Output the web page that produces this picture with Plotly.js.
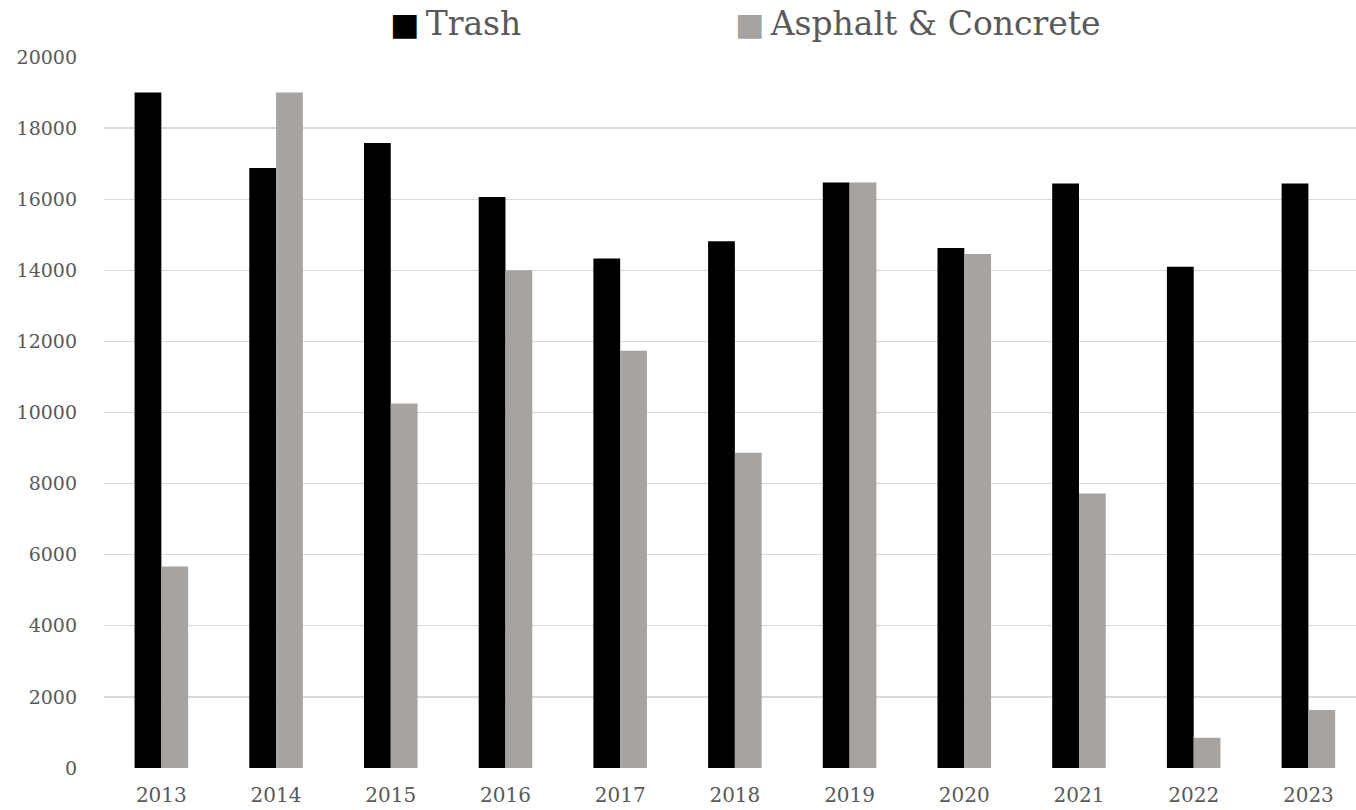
<!DOCTYPE html>
<html>
<head>
<meta charset="utf-8">
<script src="https://cdn.plot.ly/plotly-3.0.1.min.js"></script>
<style>html,body{margin:0;padding:0;background:#fff;}#chart{width:1356px;height:810px;}</style>
</head>
<body>
<div id="chart"></div>
<script>
const years = ["2013","2014","2015","2016","2017","2018","2019","2020","2021","2022","2023"];
const trash = [19000, 16880, 17580, 16060, 14330, 14820, 16470, 14630, 16440, 14100, 16440];
const asphalt = [5670, 19000, 10250, 14000, 11740, 8870, 16470, 14460, 7720, 850, 1630];
const seriesNames = ["Trash", "Asphalt & Concrete"];
const seriesColors = ["#000000", "#A6A3A1"];
const yTicks = [0, 2000, 4000, 6000, 8000, 10000, 12000, 14000, 16000, 18000, 20000];

const W = 1356, H = 810;
const m = {l: 104, r: 0, t: 57, b: 42};
const pw = W - m.l - m.r, ph = H - m.t - m.b;
const px = v => (v - m.l) / pw;
const py = v => 1 + (m.t - v) / ph;
const FONT = "DejaVu Serif";

const traces = [
  {type: "bar", x: years, y: trash, name: seriesNames[0], marker: {color: seriesColors[0], line: {width: 0}}, showlegend: false},
  {type: "bar", x: years, y: asphalt, name: seriesNames[1], marker: {color: seriesColors[1], line: {width: 0}}, showlegend: false}
];

const legendX = [388, 733];
const annotations = seriesNames.map((n, i) => ({
  xref: "paper", yref: "paper", x: px(legendX[i]), y: py(23),
  xanchor: "left", yanchor: "middle", showarrow: false,
  text: '<span style="fill:' + seriesColors[i] + ';font-size:31px">\u25A0</span><span style="font-size:20px"> </span>' + n,
  font: {family: FONT, size: 33, color: "#595959"}
}));

const layout = {
  width: W, height: H,
  margin: m,
  paper_bgcolor: "#ffffff", plot_bgcolor: "#ffffff",
  font: {family: FONT, color: "#595959"},
  barmode: "group", bargap: 0.533, bargroupgap: 0,
  xaxis: {
    type: "category", range: [-0.5, 10.415],
    showgrid: false, zeroline: false, showline: false, ticks: "",
    tickfont: {family: FONT, size: 20, color: "#595959"},
    ticklabelstandoff: 13
  },
  yaxis: {
    range: [0, 20000], tickvals: yTicks, ticktext: yTicks.map(String),
    showgrid: true, gridcolor: "#D9D9D9", gridwidth: 1.3,
    zeroline: false, showline: false, ticks: "",
    tickfont: {family: FONT, size: 19, color: "#595959"},
    ticklabelstandoff: 26
  },
  annotations: annotations
};

Plotly.newPlot("chart", traces, layout, {displayModeBar: false, staticPlot: true});
</script>
</body>
</html>
